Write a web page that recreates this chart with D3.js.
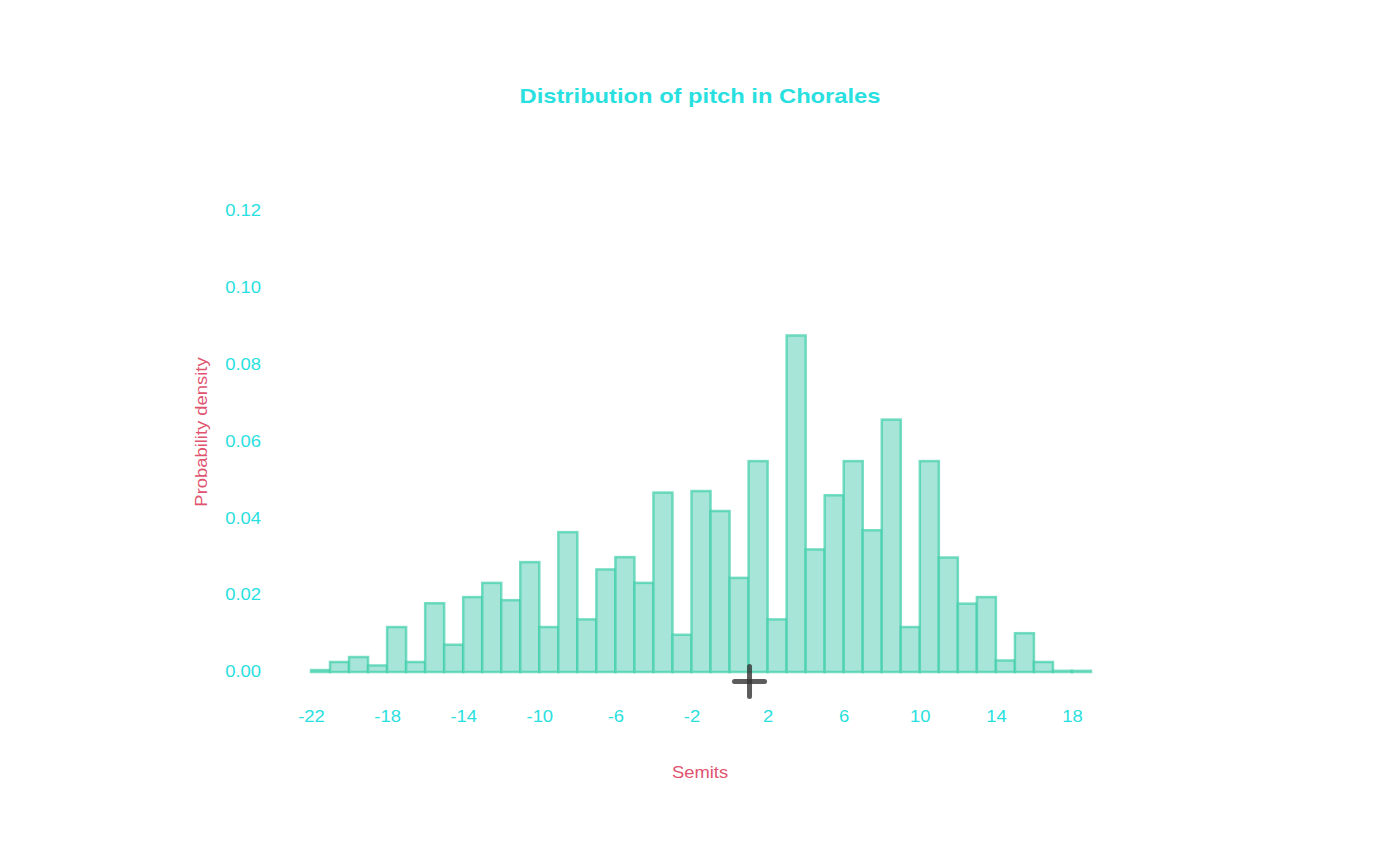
<!DOCTYPE html>
<html>
<head>
<meta charset="utf-8">
<script src="https://cdn.jsdelivr.net/npm/d3@7"></script>
<style>
  body { margin: 0; background: #fff; }
  svg text { font-family: "Liberation Sans", Arial, sans-serif; }
</style>
</head>
<body>
<div id="chart"></div>
<script>
// bins are 1 semitone wide, left edges from -22 to 18
const binStarts = d3.range(-22, 19);
const density = [
  0.0005, 0.0026, 0.0039, 0.0017, 0.0117, 0.0026, 0.0179, 0.0071, 0.0195, 0.0232,
  0.0187, 0.0286, 0.0117, 0.0364, 0.0137, 0.0267, 0.0299, 0.0232, 0.0467, 0.0097,
  0.0471, 0.0419, 0.0245, 0.0549, 0.0137, 0.0876, 0.0319, 0.0460, 0.0549, 0.0369,
  0.0657, 0.0117, 0.0549, 0.0298, 0.0178, 0.0195, 0.0030, 0.0101, 0.0026, 0.0003,
  0.0003
];
const xTicks = [-22, -18, -14, -10, -6, -2, 2, 6, 10, 14, 18];
const yTicks = [0, 0.02, 0.04, 0.06, 0.08, 0.10, 0.12];
const meanPitch = 1.05;
const meanMarkY = -0.0025;

const width = 1400, height = 865;
const stretch = 1.15; // reference text is a bit wider than Liberation Sans

const x = d3.scaleLinear().domain([-22, 18]).range([311, 1072]);
const y = d3.scaleLinear().domain([0, 0.12]).range([672, 211]);

const svg = d3.select("#chart").append("svg")
    .attr("width", width)
    .attr("height", height);

// title
svg.append("text")
    .attr("transform", `translate(700,103) scale(1.13,1)`)
    .attr("text-anchor", "middle")
    .attr("font-size", 21)
    .attr("font-weight", "bold")
    .attr("fill", "#29e0e0")
    .text("Distribution of pitch in Chorales");

// bars
svg.append("g").selectAll("rect")
    .data(binStarts)
    .enter()
    .append("rect")
    .attr("x", d => x(d))
    .attr("width", d => x(d + 1) - x(d))
    .attr("y", (d, i) => y(density[i]))
    .attr("height", (d, i) => y(0) - y(density[i]))
    .attr("fill", "#a6e5d8")
    .attr("stroke", "#3fcfa9")
    .attr("stroke-opacity", 0.7)
    .attr("stroke-width", 2.5);

// mean marker
const mx = x(meanPitch), my = y(meanMarkY);
const cross = svg.append("g")
    .attr("stroke", "#333")
    .attr("stroke-opacity", 0.8)
    .attr("stroke-width", 5)
    .attr("stroke-linecap", "round");
cross.append("line").attr("x1", mx - 15).attr("x2", mx + 15).attr("y1", my).attr("y2", my);
cross.append("line").attr("x1", mx).attr("x2", mx).attr("y1", my - 15).attr("y2", my + 15);

// x axis labels
const xAxis = svg.append("g")
    .attr("transform", "translate(0,716)")
    .call(d3.axisBottom(x).tickValues(xTicks).tickFormat(d => String(d)).tickSize(0).tickPadding(0));
xAxis.select(".domain").remove();
xAxis.selectAll("text")
    .attr("fill", "#29e0e0")
    .attr("font-size", 16)
    .attr("dy", "0.35em")
    .attr("transform", `scale(${stretch},1)`);

// y axis labels
const yAxis = svg.append("g")
    .attr("transform", "translate(261,0)")
    .call(d3.axisLeft(y).tickValues(yTicks).tickFormat(d3.format(".2f")).tickSize(0).tickPadding(0));
yAxis.select(".domain").remove();
yAxis.selectAll("text")
    .attr("fill", "#29e0e0")
    .attr("font-size", 16)
    .attr("dy", "0.3em")
    .attr("transform", `scale(${stretch},1)`);

// axis titles
svg.append("text")
    .attr("transform", `translate(700,778) scale(${stretch},1)`)
    .attr("text-anchor", "middle")
    .attr("font-size", 16)
    .attr("fill", "#e05470")
    .text("Semits");

svg.append("text")
    .attr("transform", `translate(207,432) rotate(-90) scale(${stretch},1)`)
    .attr("text-anchor", "middle")
    .attr("font-size", 16)
    .attr("fill", "#e05470")
    .text("Probability density");
</script>
</body>
</html>
